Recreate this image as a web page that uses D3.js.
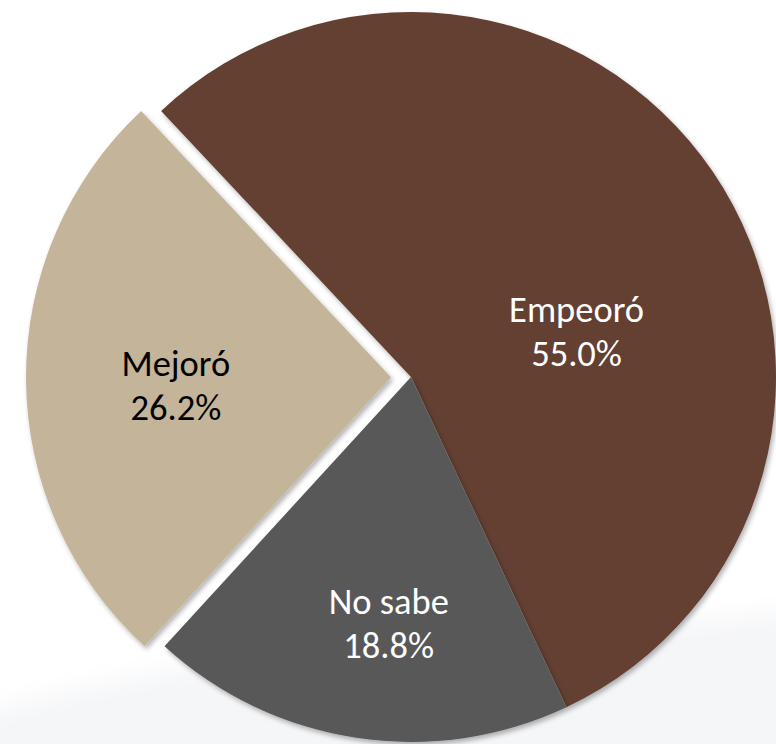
<!DOCTYPE html>
<html>
<head>
<meta charset="utf-8">
<script src="https://cdn.jsdelivr.net/npm/d3@7"></script>
<style>
  html, body { margin: 0; padding: 0; background: #fff; }
  svg { display: block; }
</style>
</head>
<body>
<div id="chart"></div>
<script>
// Data
const categories = ["Empeoró", "No sabe", "Mejoró"];
const values = [55.0, 18.8, 26.2];
const colors = ["#633f31", "#595959", "#c4b59a"];
const labelColors = ["#ffffff", "#ffffff", "#000000"];

// Layout
const width = 776;
const height = 744;
const cx = 411, cy = 377;
const radius = 365;
const startAngle = -43.2 * Math.PI / 180;
const explode = { "Mejoró": 20 };
// label placement: fraction of radius and angle shift (degrees) from slice middle
const labelPlace = {
    "Empeoró": { r: 0.47, shift: 19 },
    "No sabe": { r: 0.68, shift: -3.5 },
    "Mejoró": { r: 0.59, shift: -2 }
};

const data = categories.map((c, i) => ({ name: c, value: values[i], color: colors[i], label: labelColors[i] }));

const pie = d3.pie()
    .value(d => d.value)
    .sort(null)
    .startAngle(startAngle)
    .endAngle(startAngle + 2 * Math.PI);

const arc = d3.arc().innerRadius(0).outerRadius(radius);
const arcs = pie(data);

const svg = d3.select("#chart").append("svg")
    .attr("width", width)
    .attr("height", height);

// faint background shading
const defs = svg.append("defs");
const soft = defs.append("filter").attr("id", "soft");
soft.append("feGaussianBlur").attr("stdDeviation", 12);

svg.append("path")
    .attr("d", `M-40,${height + 40} L-40,720 Q200,650 430,640 L820,610 L820,${height + 40} Z`)
    .attr("fill", "#f5f6f8")
    .attr("filter", "url(#soft)");

const shadow = defs.append("filter")
    .attr("id", "shadow")
    .attr("x", "-10%").attr("y", "-10%").attr("width", "120%").attr("height", "120%");
shadow.append("feDropShadow")
    .attr("dx", 2).attr("dy", 3)
    .attr("stdDeviation", 2.5)
    .attr("flood-color", "#000")
    .attr("flood-opacity", 0.3);

const mid = d => (d.startAngle + d.endAngle) / 2;
const offset = d => {
    const k = explode[d.data.name] || 0;
    return [k * Math.sin(mid(d)), -k * Math.cos(mid(d))];
};

const g = svg.append("g").attr("transform", `translate(${cx},${cy})`);

g.selectAll("path.slice")
    .data(arcs)
    .join("path")
    .attr("class", "slice")
    .attr("d", arc)
    .attr("fill", d => d.data.color)
    .attr("filter", "url(#shadow)")
    .attr("transform", d => `translate(${offset(d)})`);

const labels = g.selectAll("text.lbl")
    .data(arcs)
    .join("text")
    .attr("class", "lbl")
    .attr("text-anchor", "middle")
    .style("font-family", "Carlito, Calibri, Lato, sans-serif")
    .style("font-size", "36.5px")
    .attr("fill", d => d.data.label)
    .attr("transform", d => {
        const p = labelPlace[d.data.name];
        const a = mid(d) + p.shift * Math.PI / 180;
        const o = offset(d);
        return `translate(${o[0] + p.r * radius * Math.sin(a)},${o[1] - p.r * radius * Math.cos(a)})`;
    });

labels.append("tspan")
    .attr("x", 0)
    .attr("y", -10)
    .text(d => d.data.name);

labels.append("tspan")
    .attr("x", 0)
    .attr("y", 34)
    .text(d => d3.format(".1f")(d.data.value) + "%");
</script>
</body>
</html>
